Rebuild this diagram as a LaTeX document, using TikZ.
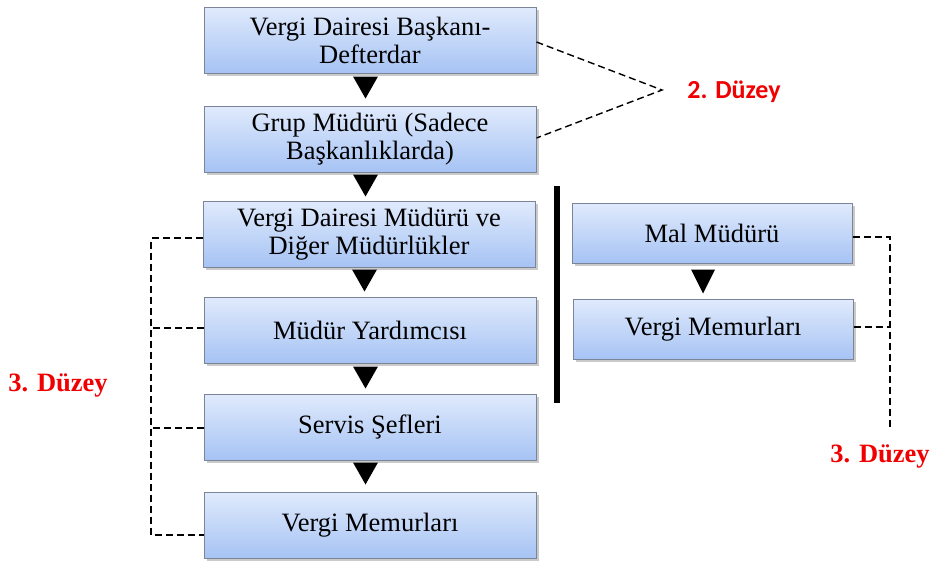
\documentclass[tikz,border=0pt]{standalone}
\usepackage{fontspec}
\setmainfont{Liberation Serif}
\newfontfamily\labelsans{Carlito}
\usetikzlibrary{calc,shadows}

\definecolor{boxtop}{HTML}{E0EAFC}
\definecolor{boxbottom}{HTML}{A6C3F4}
\definecolor{boxedge}{HTML}{7C8597}
\definecolor{levelred}{HTML}{F00000}

\tikzset{
  orgbox/.style={draw=boxedge, line width=1pt, top color=boxtop, bottom color=boxbottom,
    minimum width=332pt, minimum height=66pt, inner sep=0pt, align=center,
    font=\fontsize{26.5}{28}\selectfont,
    drop shadow={shadow xshift=2.5pt, shadow yshift=-2.5pt, opacity=0.35, fill=black!60}},
  sidebox/.style={orgbox, minimum width=280pt, minimum height=60pt},
  tip/.style={fill=black},
  bracket/.style={draw=black, line width=1.4pt, dash pattern=on 7pt off 4pt},
  levelserif/.style={text=levelred, font=\fontsize{26.5}{28}\selectfont\bfseries},
  levelsans/.style={text=levelred, font=\labelsans\fontsize{26}{28}\selectfont\bfseries},
}

\begin{document}
\begin{tikzpicture}[x=1pt, y=-1pt]
\useasboundingbox (0,0) rectangle (934,563);

% main chain
\node[orgbox] (b1) at (370,40)  {Vergi Dairesi Başkanı-\\Defterdar};
\node[orgbox] (b2) at (370,139) {Grup Müdürü (Sadece\\Başkanlıklarda)};
\node[orgbox] (b3) at (369,234) {Vergi Dairesi Müdürü ve\\Diğer Müdürlükler};
\node[orgbox] (b4) at (370,330) {Müdür Yardımcısı};
\node[orgbox] (b5) at (370,427) {Servis Şefleri};
\node[orgbox] (b6) at (370,525) {Vergi Memurları};

% side chain
\node[sidebox] (r1) at (712,233)   {Mal Müdürü};
\node[sidebox] (r2) at (713,329.5) {Vergi Memurları};

% downward triangles between the boxes
\foreach \a/\s in {b1/3, b2/2, b3/2, b4/3, b5/2} {
  \fill[tip] ($(\a.south)+(-17,\s)$) -- ++(25,0) -- ($(\a.south)+(-4.5,\s+22)$) -- cycle;
}
\fill[tip] ($(r1.south)+(-21,6)$) -- ++(24,0) -- ($(r1.south)+(-9,30)$) -- cycle;

% separating bar
\coordinate (bartop) at (557,186);
\coordinate (barbot) at (557,403);
\draw[line width=6pt] (bartop) -- (barbot);

% level 2 bracket
\coordinate (m2) at (662,90);
\coordinate (e1) at ([yshift=-2pt]b1.east);
\coordinate (e2) at ([yshift=1pt]b2.east);
\draw[bracket] (e1) -- (m2) -- (e2);
\node[levelsans] (l2) at (734,92) {2. Düzey};

% left level 3 bracket
\coordinate (lx) at (151,0);
\coordinate (t3) at ([yshift=-4pt]b3.west);
\coordinate (t4) at ([yshift=2pt]b4.west);
\coordinate (t5) at ([yshift=-1pt]b5.west);
\coordinate (t6) at ([yshift=-10pt]b6.west);
\draw[bracket] (t3) -- (lx |- t3) -- (lx |- t6) -- (t6);
\draw[bracket] (t4) -- (lx |- t4);
\draw[bracket] (t5) -- (lx |- t5);
\node[levelserif] (l3a) at (58,385) {3. Düzey};

% right level 3 bracket
\coordinate (rx) at (890,0);
\coordinate (rt) at ([yshift=-4pt]r1.east);
\coordinate (rm) at ([yshift=2.5pt]r2.east);
\coordinate (rb) at (890,427);
\draw[bracket] (rt) -- (rx |- rt) -- (rb);
\draw[bracket] (rm) -- (rx |- rm);
\node[levelserif] (l3b) at (880,456) {3. Düzey};
\end{tikzpicture}
\end{document}
